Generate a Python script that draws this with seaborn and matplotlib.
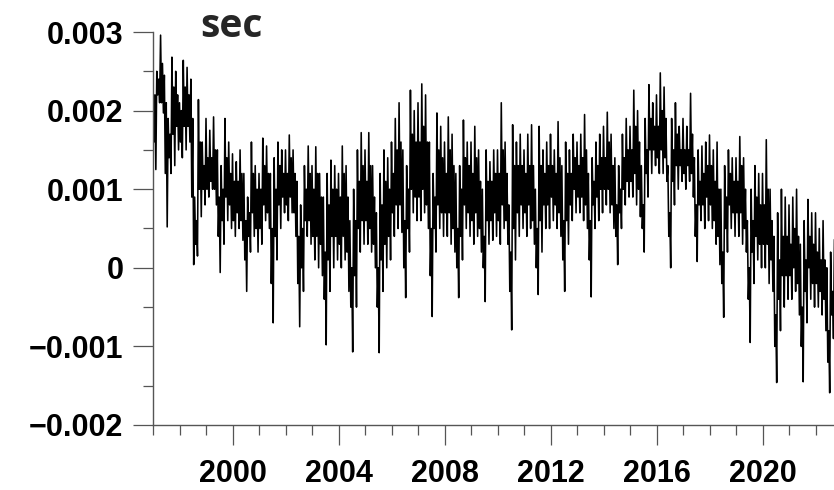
import numpy as np
import pandas as pd
import matplotlib
matplotlib.use("Agg")
import matplotlib.pyplot as plt
import seaborn as sns
from matplotlib.ticker import FixedLocator, FixedFormatter

# ---- data (milliseconds) ----
start_year = 1997.0
samples_per_year = 28   # upper spike, core low, core high, lower spike per step

upper_ms = [
    2.26, 2.5, 2.96, 2.45, 1.9, 2.68, 2.5,      # 1997
    2.1, 2.64, 2.55, 2.4, 0.9, 2.14, 1.6,       # 1998
    1.9, 1.75, 1.92, 1.5, 1.3, 1.9, 1.6,        # 1999
    1.45, 1.35, 1.5, 1.2, 0.9, 1.6, 1.3,        # 2000
    1.2, 1.65, 1.55, 1.2, 1.4, 1.6, 1.5,        # 2001
    1.5, 1.69, 1.5, 1.1, 0.8, 1.3, 1.55,        # 2002
    1.3, 1.54, 1.2, 0.9, 1.2, 1.37, 1.3,        # 2003
    1.2, 1.55, 1.3, 0.6, 1.0, 1.5, 1.72,        # 2004
    1.5, 1.72, 1.3, 0.7, 1.2, 1.5, 1.4,         # 2005
    1.6, 1.9, 2.1, 1.5, 1.3, 2.26, 2.0,         # 2006
    2.1, 2.34, 2.2, 1.6, 1.2, 1.97, 1.8,        # 2007
    1.6, 1.92, 1.7, 1.2, 1.3, 1.88, 1.6,        # 2008
    1.6, 1.8, 1.5, 1.0, 1.5, 1.35, 1.5,         # 2009
    1.5, 2.1, 1.6, 0.8, 1.82, 1.6, 1.7,         # 2010
    1.5, 1.7, 1.82, 1.0, 1.8, 1.5, 1.6,         # 2011
    1.7, 1.5, 1.86, 1.3, 1.6, 1.5, 1.7,         # 2012
    1.6, 1.7, 1.95, 1.2, 1.4, 1.6, 1.7,         # 2013
    1.8, 1.98, 1.7, 1.4, 1.3, 1.7, 1.9,         # 2014
    1.8, 2.26, 2.0, 1.3, 1.9, 2.33, 2.1,        # 2015
    2.2, 2.48, 2.3, 1.3, 1.9, 2.1, 1.8,         # 2016
    1.9, 1.8, 2.22, 1.4, 1.5, 1.55, 1.6,        # 2017
    1.69, 1.5, 1.6, 1.0, 1.3, 1.5, 1.4,         # 2018
    1.4, 1.67, 1.4, 0.6, 1.0, 1.3, 1.2,         # 2019
    1.2, 1.63, 1.0, 0.4, 0.7, 1.0, 0.9,         # 2020
    0.8, 0.9, 1.0, 0.3, 0.6, 0.87, 0.7,         # 2021
    0.7, 0.5, 0.6, 0.0, 0.2, 0.36,              # 2022
]

core_lo_ms = [
    1.6, 2.2, 2.1, 1.2, 1.4, 1.7, 1.8,          # 1997
    1.6, 1.8, 1.8, 0.9, 0.3, 1.0, 1.0,          # 1998
    1.0, 1.1, 1.0, 0.4, 0.6, 0.9, 0.8,          # 1999
    0.6, 0.7, 0.6, 0.1, 0.4, 0.7, 0.5,          # 2000
    0.5, 0.8, 0.7, -0.2, 0.4, 0.8, 0.9,         # 2001
    0.8, 0.9, 0.7, -0.2, 0.0, 0.6, 0.6,         # 2002
    0.4, 0.4, 0.3, -0.4, 0.1, 0.4, 0.4,         # 2003
    0.3, 0.4, 0.2, -0.5, -0.1, 0.5, 0.6,        # 2004
    0.6, 0.5, 0.3, -0.5, 0.1, 0.3, 0.4,         # 2005
    0.7, 0.8, 0.8, 0.0, 0.5, 1.0, 0.9,          # 2006
    0.9, 1.0, 0.8, -0.1, 0.5, 0.8, 0.7,         # 2007
    0.7, 0.7, 0.5, 0.0, 0.4, 0.8, 0.7,          # 2008
    0.6, 0.7, 0.5, 0.0, 0.6, 0.6, 0.7,          # 2009
    0.6, 0.8, 0.6, -0.3, 0.5, 0.7, 0.8,         # 2010
    0.7, 0.8, 0.6, 0.0, 0.6, 0.8, 0.8,          # 2011
    0.9, 0.8, 0.7, 0.1, 0.6, 0.8, 1.0,          # 2012
    0.9, 0.9, 0.8, 0.1, 0.8, 0.9, 1.0,          # 2013
    1.0, 1.0, 0.8, 0.4, 0.7, 1.0, 1.1,          # 2014
    1.1, 1.2, 1.0, 0.5, 1.2, 1.5, 1.5,          # 2015
    1.4, 1.5, 1.4, 0.4, 1.1, 1.3, 1.3,          # 2016
    1.2, 1.3, 1.2, 0.4, 0.8, 0.8, 0.9,          # 2017
    0.8, 0.6, 0.4, -0.2, 0.5, 0.8, 0.7,         # 2018
    0.7, 0.7, 0.5, -0.4, 0.2, 0.4, 0.3,         # 2019
    0.3, 0.3, 0.1, -1.0, -0.4, -0.1, -0.1,      # 2020
    -0.1, 0.0, -0.2, -1.0, -0.3, 0.0, -0.2,     # 2021
    -0.2, -0.3, -0.4, -1.2, -0.6,               # 2022
]

core_hi_ms = [
    2.2, 2.4, 2.6, 2.1, 1.7, 2.3, 2.2,          # 1997
    2.0, 2.3, 2.2, 1.9, 0.6, 1.6, 1.3,          # 1998
    1.4, 1.4, 1.5, 0.9, 1.0, 1.4, 1.2,          # 1999
    1.1, 1.1, 1.2, 0.6, 0.7, 1.2, 1.0,          # 2000
    1.0, 1.3, 1.2, 0.5, 1.0, 1.3, 1.2,          # 2001
    1.2, 1.4, 1.2, 0.4, 0.5, 1.0, 1.2,          # 2002
    1.0, 1.2, 0.9, 0.2, 0.8, 1.0, 1.0,          # 2003
    0.9, 1.2, 0.9, 0.0, 0.6, 1.1, 1.3,          # 2004
    1.1, 1.3, 0.9, 0.0, 0.8, 1.1, 1.0,          # 2005
    1.2, 1.5, 1.6, 0.6, 1.0, 1.7, 1.6,          # 2006
    1.6, 1.8, 1.6, 0.5, 0.9, 1.5, 1.4,          # 2007
    1.2, 1.5, 1.3, 0.5, 1.0, 1.4, 1.3,          # 2008
    1.2, 1.4, 1.1, 0.4, 1.1, 1.1, 1.2,          # 2009
    1.2, 1.5, 1.2, 0.2, 1.3, 1.3, 1.3,          # 2010
    1.2, 1.3, 1.3, 0.5, 1.3, 1.2, 1.3,          # 2011
    1.3, 1.2, 1.4, 0.6, 1.2, 1.2, 1.4,          # 2012
    1.3, 1.4, 1.5, 0.6, 1.1, 1.3, 1.4,          # 2013
    1.4, 1.6, 1.3, 0.8, 1.0, 1.4, 1.5,          # 2014
    1.5, 1.8, 1.6, 0.8, 1.5, 1.9, 1.8,          # 2015
    1.8, 2.0, 1.9, 0.7, 1.5, 1.7, 1.5,          # 2016
    1.5, 1.5, 1.7, 0.8, 1.1, 1.2, 1.3,          # 2017
    1.3, 1.1, 1.0, 0.2, 0.9, 1.2, 1.1,          # 2018
    1.1, 1.3, 1.0, 0.0, 0.6, 0.9, 0.8,          # 2019
    0.8, 1.0, 0.6, -0.6, 0.1, 0.4, 0.4,         # 2020
    0.3, 0.5, 0.4, -0.5, 0.1, 0.4, 0.3,         # 2021
    0.2, 0.1, 0.1, -0.8, -0.3,                  # 2022
]

lower_ms = [
    1.25, 2.1, 1.97, 0.52, 1.2, 1.3, 1.5,       # 1997
    1.4, 1.5, 1.6, 0.04, 0.15, 0.65, 0.8,       # 1998
    0.9, 1.0, 0.8, -0.06, 0.3, 0.6, 0.5,        # 1999
    0.4, 0.5, 0.35, -0.3, 0.2, 0.4, 0.2,        # 2000
    0.3, 0.6, 0.5, -0.7, 0.1, 0.5, 0.7,         # 2001
    0.6, 0.7, 0.4, -0.75, -0.3, 0.4, 0.3,       # 2002
    0.1, 0.0, -0.1, -0.98, -0.3, 0.0, 0.1,      # 2003
    0.0, 0.1, -0.3, -1.07, -0.5, 0.2, 0.3,      # 2004
    0.3, 0.2, 0.0, -1.08, -0.3, 0.0, 0.1,       # 2005
    0.4, 0.5, 0.45, -0.38, 0.2, 0.7, 0.6,       # 2006
    0.6, 0.7, 0.5, -0.62, 0.2, 0.5, 0.4,        # 2007
    0.4, 0.3, 0.2, -0.38, 0.1, 0.5, 0.4,        # 2008
    0.3, 0.4, 0.2, -0.43, 0.3, 0.35, 0.4,       # 2009
    0.3, 0.5, 0.3, -0.79, 0.1, 0.4, 0.5,        # 2010
    0.4, 0.5, 0.3, -0.34, 0.2, 0.5, 0.5,        # 2011
    0.6, 0.5, 0.4, -0.3, 0.3, 0.6, 0.7,         # 2012
    0.7, 0.6, 0.5, -0.37, 0.5, 0.6, 0.7,        # 2013
    0.8, 0.7, 0.5, 0.04, 0.5, 0.8, 0.9,         # 2014
    0.9, 0.8, 0.65, 0.2, 0.9, 1.2, 1.3,         # 2015
    1.2, 1.2, 1.1, 0.0, 0.8, 1.0, 1.1,          # 2016
    1.0, 1.1, 0.9, 0.08, 0.6, 0.5, 0.6,         # 2017
    0.5, 0.3, 0.04, -0.63, 0.2, 0.5, 0.4,       # 2018
    0.4, 0.3, 0.2, -0.95, -0.2, 0.1, 0.0,       # 2019
    0.0, -0.2, -0.3, -1.46, -0.8, -0.5, -0.4,   # 2020
    -0.4, -0.3, -0.6, -1.45, -0.7, -0.4, -0.5,  # 2021
    -0.5, -0.6, -0.8, -1.59, -0.9,              # 2022
]

ytick_values = [-0.002, -0.001, 0.0, 0.001, 0.002, 0.003]
ytick_labels = ["\u22120.002", "\u22120.001", "0", "0.001", "0.002", "0.003"]
xtick_years = [2000, 2004, 2008, 2012, 2016, 2020]
title_text = "sec"

# ---- assemble series: each step = upper, core low, core high, lower ----
seq = []
for u, cl, ch, lo in zip(upper_ms, core_lo_ms, core_hi_ms, lower_ms):
    seq.extend([u, cl, ch, lo])
seq.extend(upper_ms[len(lower_ms):])
vals = np.array(seq)
times = start_year + np.arange(len(vals)) / samples_per_year
df = pd.DataFrame({"year": times, "sec": vals * 1e-3})

# ---- figure ----
sns.set_theme(style="white")
plt.rcParams["font.family"] = ["Liberation Sans", "DejaVu Sans"]

W, H = 834, 490
fig = plt.figure(figsize=(W / 100, H / 100), dpi=100)
ax = fig.add_axes([153 / W, 1 - 425 / H, 1 - 153 / W, (425 - 32) / H])

sns.lineplot(data=df, x="year", y="sec", ax=ax, color="black",
             linewidth=1.15, estimator=None, sort=False)

ax.set_xlim(1997.0, 1997.0 + (W - 153) / 26.5)
ax.set_ylim(-0.002, 0.003)

for side in ("top", "right"):
    ax.spines[side].set_visible(False)
for side in ("left", "bottom"):
    ax.spines[side].set_color("#555555")
    ax.spines[side].set_linewidth(1.0)

ax.yaxis.set_major_locator(FixedLocator(ytick_values))
ax.yaxis.set_major_formatter(FixedFormatter(ytick_labels))
ax.yaxis.set_minor_locator(FixedLocator([-0.0015, -0.0005, 0.0005, 0.0015, 0.0025]))
ax.xaxis.set_major_locator(FixedLocator(xtick_years))
ax.xaxis.set_major_formatter(FixedFormatter([str(y) for y in xtick_years]))
ax.xaxis.set_minor_locator(FixedLocator(list(range(1997, 2023))))

ax.tick_params(which="both", left=True, bottom=True, top=False, right=False)
ax.tick_params(which="major", direction="out", length=14.4, width=0.9,
               color="#555555", labelsize=22, labelcolor="black")
ax.tick_params(which="minor", direction="out", length=7.2, width=0.9,
               color="#555555")
ax.tick_params(axis="y", which="major", pad=7)
ax.tick_params(axis="x", which="major", pad=10)
for lab in ax.get_xticklabels() + ax.get_yticklabels():
    lab.set_fontweight("bold")

ax.set_xlabel("")
ax.set_ylabel("")
ax.grid(False)

fig.text(200 / W, 1 - 37 / H, title_text, fontsize=28, fontweight="bold",
         family=["Open Sans", "DejaVu Sans"], ha="left", va="baseline")

fig.savefig("out.png", dpi=100)
